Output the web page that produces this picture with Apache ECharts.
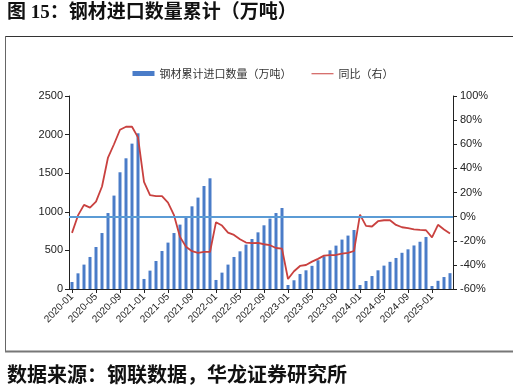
<!DOCTYPE html>
<html>
<head>
<meta charset="utf-8">
<script src="https://cdn.jsdelivr.net/npm/echarts@6/dist/echarts.min.js"></script>
<style>
html,body{margin:0;padding:0;background:#fff;}
#chart{width:526px;height:391px;}
</style>
</head>
<body>
<div id="chart"></div>
<script>
var years = ['2020','2021','2022','2023','2024','2025'];
var monthsPerYear = [12,12,12,12,12,4];
var categories = [];
years.forEach(function(y, k){
  for (var m = 1; m <= monthsPerYear[k]; m++) categories.push(y + '-' + (m < 10 ? '0' + m : m));
});

var importCum2020 = [91,203,316,415,544,725,984,1210,1512,1693,1883,2017];
var importCum2021 = [130,238,363,492,601,725,834,933,1071,1184,1334,1434];
var importCum2022 = [117,212,316,415,488,575,648,734,825,912,984,1049];
var importCum2023 = [52,113,194,242,300,372,424,501,562,640,692,764];
var importCum2024 = [52,104,168,242,303,352,402,469,514,564,612,674];
var importCum2025 = [39,106,155,205];

var yoy2020 = [-13.5,1,9.7,7.5,12.5,25,49,60,72,74.5,74.5,65.7];
var yoy2021 = [28.8,17.8,17,17,11.7,1.2,-16.8,-25,-28.7,-30,-29.3,-29.3];
var yoy2022 = [-4.6,-7.4,-13.2,-15.2,-18.8,-21.5,-22,-21.8,-22.9,-23.7,-26,-26.5];
var yoy2023 = [-51.7,-45.3,-40.9,-40.1,-37.3,-35,-32.3,-32,-31.8,-30.7,-30.1,-28.5];
var yoy2024 = [1.7,-7.7,-8.2,-3.8,-3,-3,-6.9,-8.8,-9.6,-10.5,-11,-11.3];
var yoy2025 = [-17.2,-6.8,-10.7,-14];

var leftTicks = {min:0, max:2500, interval:500};
var rightTicks = {min:-60, max:100, interval:20};

var importCum = [].concat(importCum2020, importCum2021, importCum2022, importCum2023, importCum2024, importCum2025);
var yoy = [].concat(yoy2020, yoy2021, yoy2022, yoy2023, yoy2024, yoy2025);

var chart = echarts.init(document.getElementById('chart'), null, {renderer:'canvas'});
var cjk = "'Noto Sans CJK SC', 'Liberation Sans', sans-serif";
var axisColor = '#222';
var lineIcon = 'path://M0,0 L0.01,0 L0.01,0.01 Z M0,2.1 L24,2.1 L24,3.4 L0,3.4 Z M0,5 L0.01,5 L0.01,4.99 Z';
chart.setOption({
  animation:false,
  backgroundColor:'#fff',
  textStyle:{fontFamily:cjk},
  graphic:[
    {type:'text', left:7, top:4, style:{text:'图 15：钢材进口数量累计（万吨）', font:"bold 19px 'Liberation Serif', 'Noto Sans CJK SC', serif", fill:'#111'}},
    {type:'line', shape:{x1:5, y1:36.5, x2:513, y2:36.5}, style:{stroke:'#333', lineWidth:1}},
    {type:'line', shape:{x1:5.5, y1:36, x2:5.5, y2:351}, style:{stroke:'#666', lineWidth:1}},
    {type:'line', shape:{x1:5, y1:351.5, x2:513, y2:351.5}, style:{stroke:'#777', lineWidth:2}},
    {type:'text', left:7, top:364, style:{text:'数据来源：钢联数据，华龙证券研究所', font:"bold 20px 'Noto Sans CJK SC', sans-serif", fill:'#111'}}
  ],
  legend:{
    top:63, left:'center', itemGap:20, itemWidth:22, itemHeight:5,
    textStyle:{fontSize:11, color:'#333', fontFamily:cjk},
    data:[
      {name:'钢材累计进口数量（万吨）', icon:'rect'},
      {name:'同比（右）', icon:lineIcon}
    ]
  },
  grid:{left:69, right:73, top:96, bottom:102, containLabel:false},
  xAxis:{
    type:'category', data:categories, boundaryGap:true,
    axisLine:{lineStyle:{color:axisColor, width:1}},
    axisTick:{show:true, alignWithLabel:true, interval:3, length:4, lineStyle:{color:axisColor}},
    axisLabel:{interval:3, rotate:45, fontSize:10, color:'#222', margin:6, fontFamily:"'Liberation Sans', sans-serif"}
  },
  yAxis:[
    {type:'value', min:leftTicks.min, max:leftTicks.max, interval:leftTicks.interval,
     axisLine:{show:true, lineStyle:{color:axisColor}},
     axisTick:{show:true, length:4, lineStyle:{color:axisColor}},
     axisLabel:{fontSize:11, color:'#222', margin:6, formatter:function(v){return String(v);}, fontFamily:"'Liberation Sans', sans-serif"},
     splitLine:{show:false}},
    {type:'value', min:rightTicks.min, max:rightTicks.max, interval:rightTicks.interval, position:'right',
     axisLine:{show:true, lineStyle:{color:axisColor}},
     axisTick:{show:true, length:4, lineStyle:{color:axisColor}},
     axisLabel:{fontSize:11, color:'#222', margin:7, formatter:'{value}%', fontFamily:"'Liberation Sans', sans-serif"},
     splitLine:{show:false}}
  ],
  series:[
    {name:'钢材累计进口数量（万吨）', type:'bar', data:importCum, barWidth:3, yAxisIndex:0,
     itemStyle:{color:'#4a7cc8'}},
    {name:'同比（右）', type:'line', data:yoy, yAxisIndex:1, symbol:'none', smooth:false,
     lineStyle:{color:'#c9413f', width:1.8}, itemStyle:{color:'#c9413f'},
     markLine:{silent:true, symbol:'none', label:{show:false},
       lineStyle:{color:'#5b9bd5', width:2, type:'solid'},
       data:[{yAxis:0}]}}
  ]
});
</script>
</body>
</html>
